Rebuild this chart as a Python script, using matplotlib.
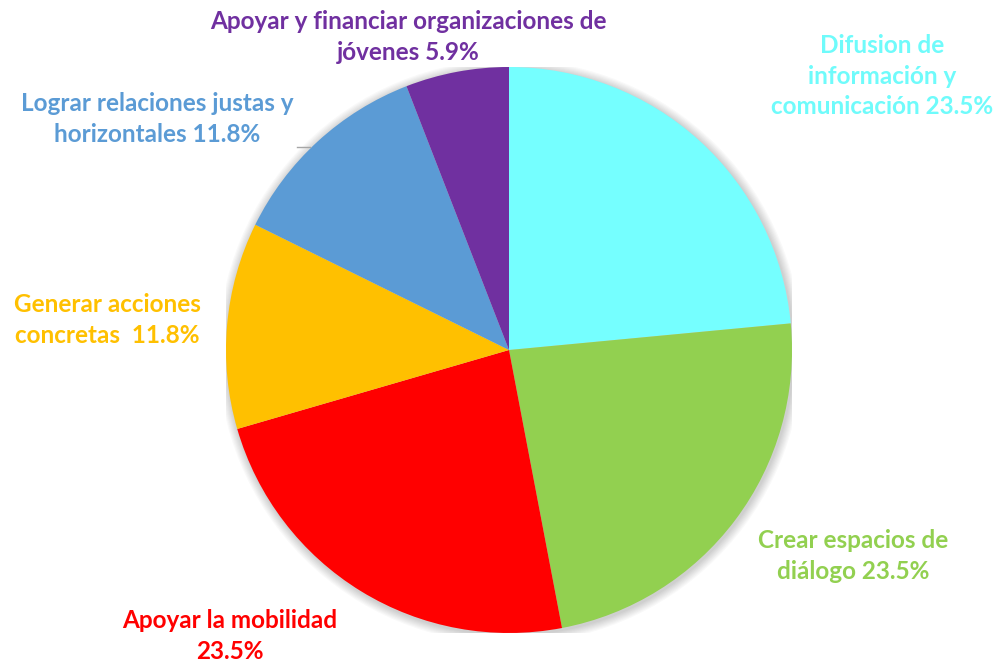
import matplotlib
matplotlib.use("Agg")
import matplotlib.pyplot as plt
from matplotlib.patches import Circle

labels = ["Difusion de\ninformación y\ncomunicación 23.5%",
          "Crear espacios de\ndiálogo 23.5%",
          "Apoyar la mobilidad\n23.5%",
          "Generar acciones\nconcretas  11.8%",
          "Lograr relaciones justas y\nhorizontales 11.8%",
          "Apoyar y financiar organizaciones de\njóvenes 5.9%"]
values = [23.5, 23.5, 23.5, 11.8, 11.8, 5.9]
colors = ["#75FFFF", "#92D050", "#FF0000", "#FFC000", "#5B9BD5", "#7030A0"]
text_colors = ["#6FFBFB", "#92D050", "#FF0000", "#FFC000", "#5B9BD5", "#7030A0"]
# label block centres in pixel coords (x, y from top)
label_px = [(882, 76), (853, 556), (230, 636), (107, 320), (157, 119), (408, 37)]

W, H = 1001, 666
cx, cy, R = 509, 350, 283
fig = plt.figure(figsize=(W / 100, H / 100), dpi=100)
ax = fig.add_axes([(cx - R) / W, (H - cy - R) / H, 2 * R / W, 2 * R / H])

# soft shadow
for i in range(8):
    ax.add_patch(Circle((0.004, -0.006), 1.0 + 0.004 * (i + 1), color="black",
                        alpha=0.025, lw=0, zorder=0))

ax.pie(values, colors=colors, startangle=90, counterclock=False, radius=1.0,
       wedgeprops=dict(linewidth=0))
ax.set_xlim(-1, 1)
ax.set_ylim(-1, 1)
ax.set_aspect("equal")
ax.axis("off")

for lab, col, (px, py) in zip(labels, text_colors, label_px):
    ax.text((px - cx) / R, (cy - py) / R, lab, ha="center", va="center",
            color=col, fontsize=17.5, fontweight="bold", family="Lato",
            linespacing=1.38, clip_on=False)

# small leader line near the blue label
ax.plot([(297 - cx) / R, (310 - cx) / R], [(cy - 147) / R, (cy - 147) / R],
        color="#A6A6A6", lw=1, clip_on=False)

fig.savefig("out.png", dpi=100)
